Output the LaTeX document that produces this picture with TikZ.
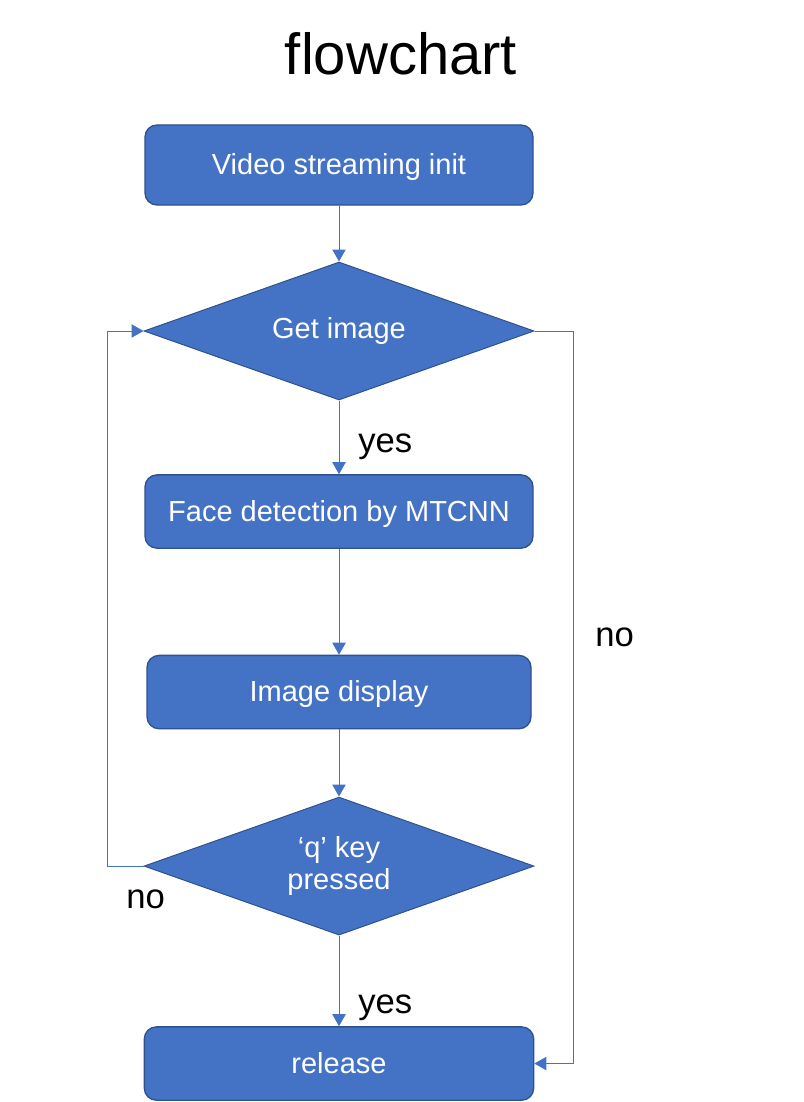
\documentclass[tikz,border=0pt]{standalone}
\usepackage{fontspec}
\setmainfont{Liberation Sans}
\usetikzlibrary{positioning}
\usetikzlibrary{shapes.geometric}
\usetikzlibrary{arrows.meta}
\definecolor{offblue}{HTML}{4472C4}
\definecolor{offedge}{HTML}{2F528F}
\tikzset{procbox/.style={draw=offedge,fill=offblue,line width=1pt,rounded corners=9pt,text=white,minimum width=291pt,minimum height=55pt,inner sep=0pt,text depth=1pt,font=\fontsize{21.75}{24}\selectfont}}
\tikzset{decide/.style={diamond,aspect=2.83,draw=offedge,fill=offblue,line width=0.75pt,text=white,minimum width=292.5pt,minimum height=103.5pt,inner sep=0pt,align=center,font=\fontsize{21.75}{24}\selectfont}}
\tikzset{flow/.style={draw=offblue,line width=0.75pt,-{Triangle[width=10pt,length=9pt]}}}
\tikzset{ed/.style={inner sep=0pt,font=\fontsize{26}{30}\selectfont}}

\begin{document}
\begin{tikzpicture}[x=0.75pt,y=-0.75pt]
\useasboundingbox (0,0) rectangle (803,1102);

\node[inner sep=0pt,anchor=base,font=\fontsize{43.5}{50}\selectfont] (title) at (401,75) {flowchart};

\begin{scope}[on grid]

\node[procbox,minimum height=60pt] (init) at (339,165) {Video streaming init};
\node[decide] (grab) [below = 124.5pt of init] {Get image};
\node[procbox] (detect) [below = 135.4pt of grab] {Face detection by MTCNN};
\node[procbox,minimum width=288pt] (show) [below = 135.4pt of detect] {Image display};
\node[decide] (ask) [below = 130.5pt of show] {‘q’ key\\pressed};
\node[procbox,minimum width=292pt] (rel) [below = 148.1pt of ask] {release};

\coordinate (lrail) at (107,0);
\coordinate (rrail) at (573,0);

\draw[flow] (init) -- (grab);
\draw[flow] (grab) -- (detect);
\draw[flow] (detect) -- (show);
\draw[flow] (show) -- (ask);
\draw[flow] (ask) -- (rel);

\draw[flow] (ask.west) -- (ask.west -| lrail) -- (grab.west -| lrail) -- (grab.west);
\draw[flow] (grab.east) -- (grab.east -| rrail) -- (rel.east -| rrail) -- (rel.east);

\node[ed,anchor=base west] (yes1) at (358,452) {yes};
\node[ed,anchor=base west] (no1) at (595,646) {no};
\node[ed,anchor=base west] (no2) at (126,908) {no};
\node[ed,anchor=base west] (yes2) at (358,1013) {yes};

\end{scope}
\end{tikzpicture}
\end{document}
